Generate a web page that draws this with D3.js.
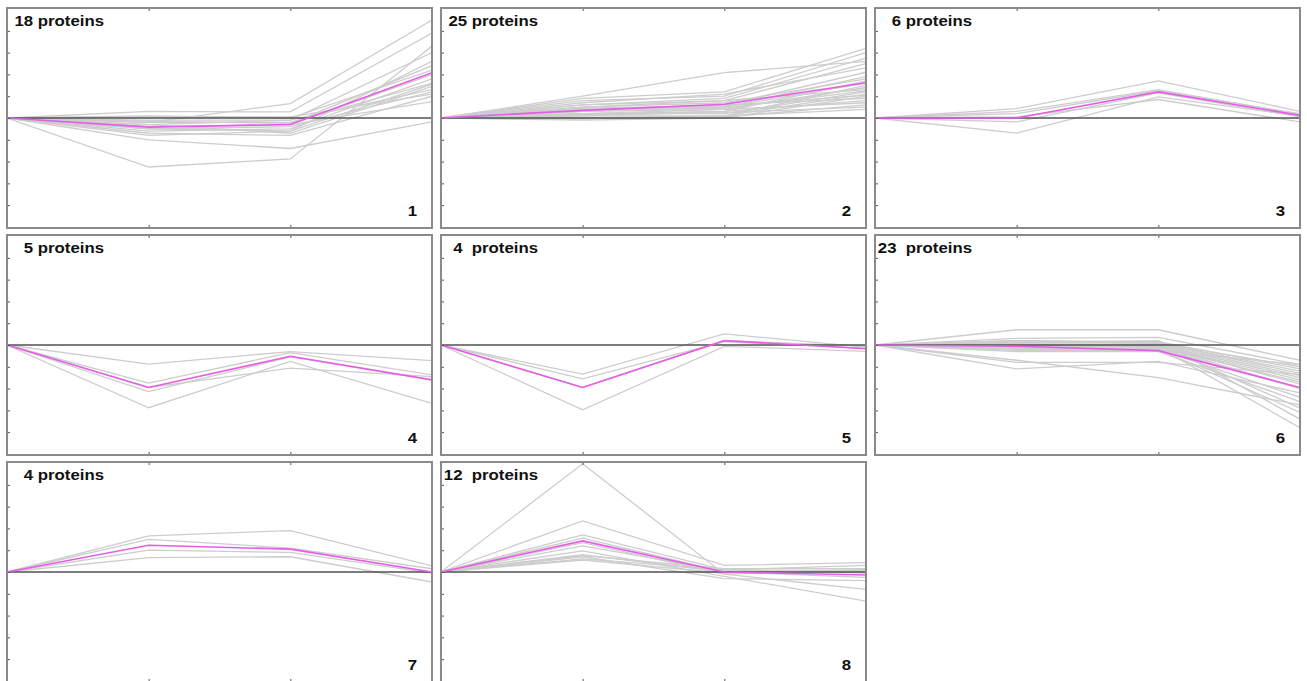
<!DOCTYPE html>
<html>
<head>
<meta charset="utf-8">
<script src="https://cdn.jsdelivr.net/npm/d3@7"></script>
<style>
    body { margin: 0; background: #fff; }
    svg { display: block; }
    text { white-space: pre; }
</style>
</head>
<body>
<script>
// time points along x, y tick values
const timepoints = [0, 1, 2, 3];
const y_ticks = [-4, -3, -2, -1, 0, 1, 2, 3, 4];
const labels = ["18 proteins", "25 proteins", "6 proteins", "5 proteins",
                "4  proteins", "23  proteins", "4 proteins", "12  proteins"];

// mean profile (magenta) of each cluster
const means = [
    [0, -0.42, -0.3, 2.08],
    [0, 0.35, 0.63, 1.62],
    [0, 0.0, 1.2, 0.12],
    [0, -1.95, -0.52, -1.6],
    [0, -1.95, 0.2, -0.17],
    [0, -0.06, -0.26, -1.95],
    [0, 1.23, 1.05, 0.0],
    [0, 1.43, 0.0, -0.14]
];

// single protein profiles (grey)
const cluster1 = [
    [0, -0.2, 0.66, 4.5], [0, 0.3, 0.28, 3.9], [0, -2.25, -1.88, 3.3],
    [0, -1.0, -1.4, -0.18], [0, -0.3, -0.1, 3.0], [0, -0.5, -0.6, 2.6],
    [0, 0.1, 0.0, 2.2], [0, -0.4, -0.3, 2.0], [0, -0.6, -0.5, 1.8],
    [0, -0.2, -0.2, 1.6], [0, -0.3, -0.7, 1.45], [0, -0.1, -0.1, 1.3],
    [0, -0.5, -0.4, 1.2], [0, 0.05, 0.05, 1.1], [0, -0.7, -0.8, 1.0],
    [0, -0.4, -0.3, 0.75], [0, -0.15, -0.25, 2.4], [0, -0.8, -0.6, 1.55]
];
const cluster2 = [
    [0, 1.0, 2.08, 2.6], [0, 0.9, 1.2, 3.2], [0, 0.8, 1.0, 3.0],
    [0, 0.6, 0.9, 2.75], [0, 0.5, 0.8, 2.5], [0, 0.7, 1.1, 2.3],
    [0, 0.4, 0.6, 2.1], [0, 0.3, 0.5, 1.9], [0, 0.5, 0.7, 1.8],
    [0, 0.2, 0.3, 1.7], [0, 0.4, 0.5, 1.6], [0, 0.1, 0.1, 1.5],
    [0, 0.3, 0.4, 1.4], [0, 0.6, 0.8, 1.3], [0, 0.2, 0.2, 1.2],
    [0, 0.0, 0.1, 1.1], [0, -0.1, 0.0, 1.0], [0, 0.3, 0.6, 0.9],
    [0, 0.1, 0.3, 0.8], [0, 0.2, 0.4, 0.7], [0, 0.0, 0.05, 0.6],
    [0, 0.15, 0.25, 0.5], [0, -0.05, 0.1, 0.4], [0, 0.45, 0.55, 1.05],
    [0, 0.35, 0.45, 1.25]
];
const cluster3 = [
    [0, 0.43, 1.7, 0.3], [0, 0.2, 1.25, 0.2], [0, -0.69, 0.97, 0.1],
    [0, -0.18, 1.15, 0.05], [0, 0.05, 0.85, -0.18], [0, 0.3, 1.3, 0.15]
];
const cluster4 = [
    [0, -0.88, -0.3, -0.72], [0, -1.75, -0.35, -1.37], [0, -2.14, -0.55, -1.6],
    [0, -2.88, -0.75, -2.68], [0, -1.95, -1.06, -1.45]
];
const cluster5 = [
    [0, -1.34, 0.51, -0.1], [0, -1.55, 0.15, -0.15],
    [0, -2.98, -0.06, -0.29], [0, -1.95, 0.2, -0.05]
];
const cluster6 = [
    [0, 0.7, 0.7, -0.7], [0, 0.3, 0.35, -0.9], [0, 0.2, 0.15, -1.1],
    [0, 0.1, 0.1, -1.3], [0, 0.0, 0.05, -1.4], [0, 0.05, 0.0, -1.5],
    [0, -0.1, -0.05, -1.6], [0, 0.0, -0.1, -1.7], [0, -0.05, 0.0, -1.8],
    [0, -0.15, -0.15, -2.0], [0, -1.1, -0.75, -2.2], [0, -0.2, -0.2, -2.4],
    [0, -0.3, -0.3, -2.6], [0, -0.7, -1.5, -2.75], [0, 0.0, 0.0, -2.9],
    [0, -0.1, -0.2, -3.1], [0, 0.1, 0.2, -3.4], [0, -0.1, -0.1, -3.8],
    [0, 0.15, 0.1, -1.2], [0, -0.25, -0.25, -0.9], [0, -0.05, -0.05, -2.0],
    [0, 0.2, 0.1, -1.0], [0, -0.8, -0.8, -1.35]
];
const cluster7 = [
    [0, 1.66, 1.9, 0.28], [0, 1.5, 1.1, 0.15],
    [0, 1.0, 0.9, -0.05], [0, 0.66, 0.7, -0.46]
];
const cluster8 = [
    [0, 4.97, -0.1, 0.1], [0, 2.35, 0.3, 0.43], [0, 1.7, 0.1, 0.3],
    [0, 1.55, 0.0, 0.1], [0, 1.35, -0.1, -0.8], [0, 1.2, 0.05, 0.0],
    [0, 0.97, -0.2, -1.34], [0, 0.8, 0.0, -0.25], [0, 0.75, 0.15, 0.15],
    [0, 0.7, -0.3, -0.4], [0, 0.6, 0.1, -0.05], [0, 0.55, -0.05, 0.05]
];
const clusters = [cluster1, cluster2, cluster3, cluster4,
                  cluster5, cluster6, cluster7, cluster8];

const W = 1307, H = 681;
const panel = { width: 425, height: 220 };
const pitch = { x: 434, y: 227 };
const origin = { x: 7, y: 8 };

const svg = d3.select("body")
    .append("svg")
    .attr("width", W)
    .attr("height", H);

const xax = d3.scaleLinear()
    .domain([0, 3])
    .range([0, panel.width]);
const yax = d3.scaleLinear()
    .domain([-5.05, 5.05])
    .range([panel.height, 0]);

const line = d3.line()
    .x((d, i) => xax(timepoints[i]))
    .y(d => yax(d));

const label_font = sel => sel
    .style("font-family", "'Liberation Sans', Arial, sans-serif")
    .style("font-weight", "bold")
    .style("font-size", "15px")
    .attr("fill", "#111")
    .attr("text-anchor", "end");

clusters.forEach((profiles, k) => {
    const col = k % 3, row = Math.floor(k / 3);
    const g = svg.append("g")
        .attr("id", `cluster_${k + 1}`)
        .attr("transform", `translate(${origin.x + col * pitch.x}, ${origin.y + row * pitch.y})`);

    // clip so profiles stay in the box
    g.append("clipPath")
        .attr("id", `clip_${k}`)
        .append("rect")
        .attr("width", panel.width)
        .attr("height", panel.height);

    const plot = g.append("g")
        .attr("clip-path", `url(#clip_${k})`);

    plot.append("g")
        .attr("class", "profiles")
        .selectAll("path")
        .data(profiles)
        .join("path")
        .attr("d", line)
        .attr("fill", "none")
        .attr("stroke", "#cdcdcd")
        .attr("stroke-width", 1.3);

    plot.append("line")
        .attr("x1", 0)
        .attr("x2", panel.width)
        .attr("y1", yax(0))
        .attr("y2", yax(0))
        .attr("stroke", "#505050")
        .attr("stroke-width", 1.5);

    plot.append("path")
        .datum(means[k])
        .attr("d", line)
        .attr("fill", "none")
        .attr("stroke", "#e65ce6")
        .attr("stroke-width", 1.6);

    // inward ticks
    const tick_style = sel => {
        sel.select(".domain").remove();
        sel.selectAll(".tick line").attr("stroke", "#555").attr("stroke-width", 1);
        sel.selectAll(".tick text").remove();
    };
    g.append("g")
        .call(d3.axisLeft(yax).tickValues(y_ticks).tickSize(-3))
        .call(tick_style);
    g.append("g")
        .call(d3.axisTop(xax).tickValues([1, 2]).tickSize(-3))
        .call(tick_style);
    g.append("g")
        .attr("transform", `translate(0, ${panel.height})`)
        .call(d3.axisBottom(xax).tickValues([1, 2]).tickSize(-3))
        .call(tick_style);

    g.append("rect")
        .attr("width", panel.width)
        .attr("height", panel.height)
        .attr("fill", "none")
        .attr("stroke", "#8a8a8a")
        .attr("stroke-width", 2);

    g.append("text")
        .attr("transform", `translate(97, 17.5) scale(1.12, 1)`)
        .call(label_font)
        .text(labels[k]);

    g.append("text")
        .attr("transform", `translate(${panel.width - 15}, ${panel.height - 12.5}) scale(1.12, 1)`)
        .call(label_font)
        .text(k + 1);
});
</script>
</body>
</html>
